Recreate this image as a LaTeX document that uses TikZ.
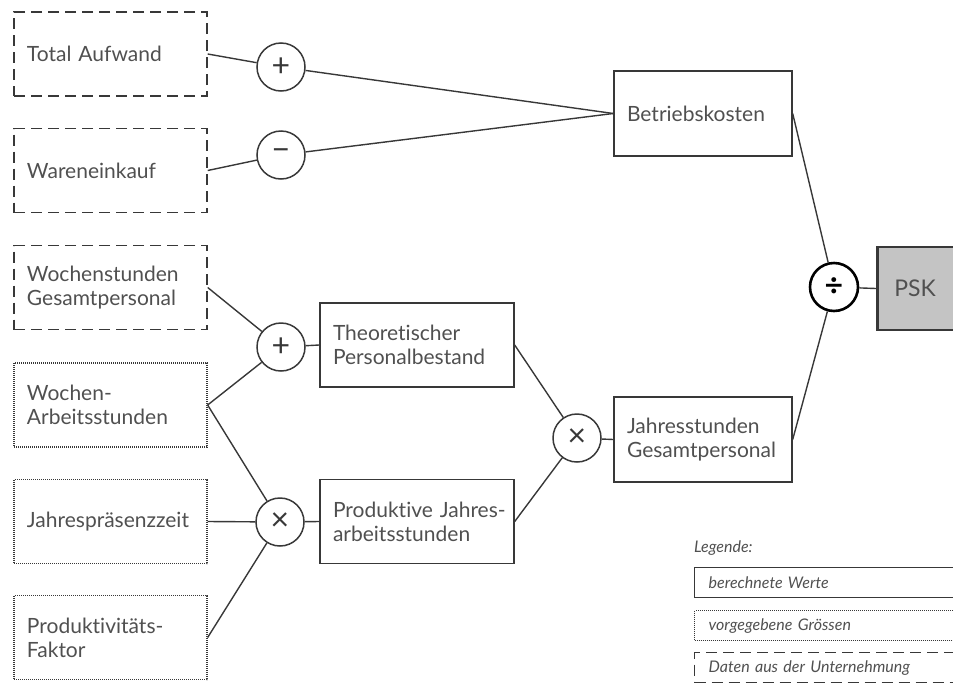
\documentclass[tikz,border=0pt]{standalone}
\usepackage{fontspec}
\setmainfont{Lato}[Ligatures=NoCommon]
\definecolor{linecol}{HTML}{383838}
\definecolor{txtcol}{HTML}{505050}
\definecolor{pskfill}{HTML}{C4C4C4}
\begin{document}
\begin{tikzpicture}[x=1pt,y=-1pt,
  box/.style={draw=linecol, line width=1.4pt, text=txtcol,
    font=\fontsize{21}{24}\selectfont, align=left, inner xsep=13pt, inner ysep=0pt},
  lbox/.style={box, text width=167pt, minimum height=84pt},
  mbox/.style={box, text width=168pt, minimum height=84pt},
  rbox/.style={box, text width=152pt, minimum height=85pt},
  dashbox/.style={dash pattern=on 11pt off 6pt},
  dotbox/.style={dash pattern=on 1pt off 1pt, line width=1.3pt},
  op/.style={circle, draw=linecol, line width=1.5pt, minimum size=48pt, inner sep=0pt,
    font=\fontsize{32}{32}\selectfont, text=linecol},
  conn/.style={draw=linecol, line width=1.4pt},
  legbox/.style={draw=linecol, line width=1.4pt, text=txtcol, anchor=north west,
    font=\fontsize{16}{18}\itshape\selectfont, align=left, inner xsep=14pt, inner ysep=0pt,
    text width=240pt, minimum height=30pt}
]
\useasboundingbox (0,0) rectangle (953,683);

% left input boxes
\node[lbox, dashbox] (ta) at (110.5,54) {Total Aufwand};
\node[lbox, dashbox] (we) at (110.5,170.5) {Wareneinkauf};
\node[lbox, dashbox] (wg) at (110.5,287.5) {Wochenstunden\\Gesamtpersonal};
\node[lbox, dotbox] (wa) at (110.5,405) {Wochen-\\Arbeitsstunden};
\node[lbox, dotbox] (jp) at (110.5,521.5) {Jahrespräsenzzeit};
\node[lbox, dotbox] (pf) at (110.5,637.5) {Produktivitäts-\\Faktor};

% operators
\node[op] (c1) at (281,67) {+};
\node[op] (c2) at (281,155) {−};
\node[op] (c3) at (281,347) {+};
\node[op] (c4) at (280,522) {×};
\node[op] (c5) at (577,438) {×};
\node[op, line width=2.6pt, draw=black, text=black, font=\bfseries\fontsize{32}{32}\selectfont] (c6) at (834,287) {÷};

% computed boxes
\node[mbox] (tp) at (417,345) {Theoretischer\\Personalbestand};
\node[mbox] (pj) at (417,521.5) {\mbox{Produktive Jahres-}\\arbeitsstunden};
\node[rbox] (bk) at (703,113.5) {Betriebskosten};
\node[rbox] (js) at (703,439.5) {Jahresstunden\\Gesamtpersonal};
\node[box, anchor=west, fill=pskfill, line width=2.6pt, text width=70pt, inner xsep=17pt,
  minimum height=83pt, font=\fontsize{23}{24}\selectfont] (psk) at (876,288.5) {PSK};

% connectors
\draw[conn] (ta.east) -- (c1);
\draw[conn] (we.east) -- (c2);
\draw[conn] (c1) -- (bk.west);
\draw[conn] (c2) -- (bk.west);
\draw[conn] (wg.east) -- (c3);
\draw[conn] (wa.east) -- (c3);
\draw[conn] (wa.east) -- (c4);
\draw[conn] (jp.east) -- (c4);
\draw[conn] (pf.east) -- (c4);
\draw[conn] (c3) -- (tp.west);
\draw[conn] (c4) -- (pj.west);
\draw[conn] (tp.east) -- (c5);
\draw[conn] (pj.east) -- (c5);
\draw[conn] (c5) -- (js.west);
\draw[conn] (bk.east) -- (c6);
\draw[conn] (js.east) -- (c6);
\draw[conn] (c6) -- (psk.west);

% legend
\node[anchor=west, text=txtcol, font=\fontsize{16}{18}\itshape\selectfont, inner sep=0pt] (lg) at (694,548) {Legende:};
\node[legbox] (l1) at (694,567) {berechnete Werte};
\node[legbox, dotbox] (l2) at (694,610) {vorgegebene Grössen};
\node[legbox, dashbox] (l3) at (694,652) {Daten aus der Unternehmung};
\end{tikzpicture}
\end{document}
